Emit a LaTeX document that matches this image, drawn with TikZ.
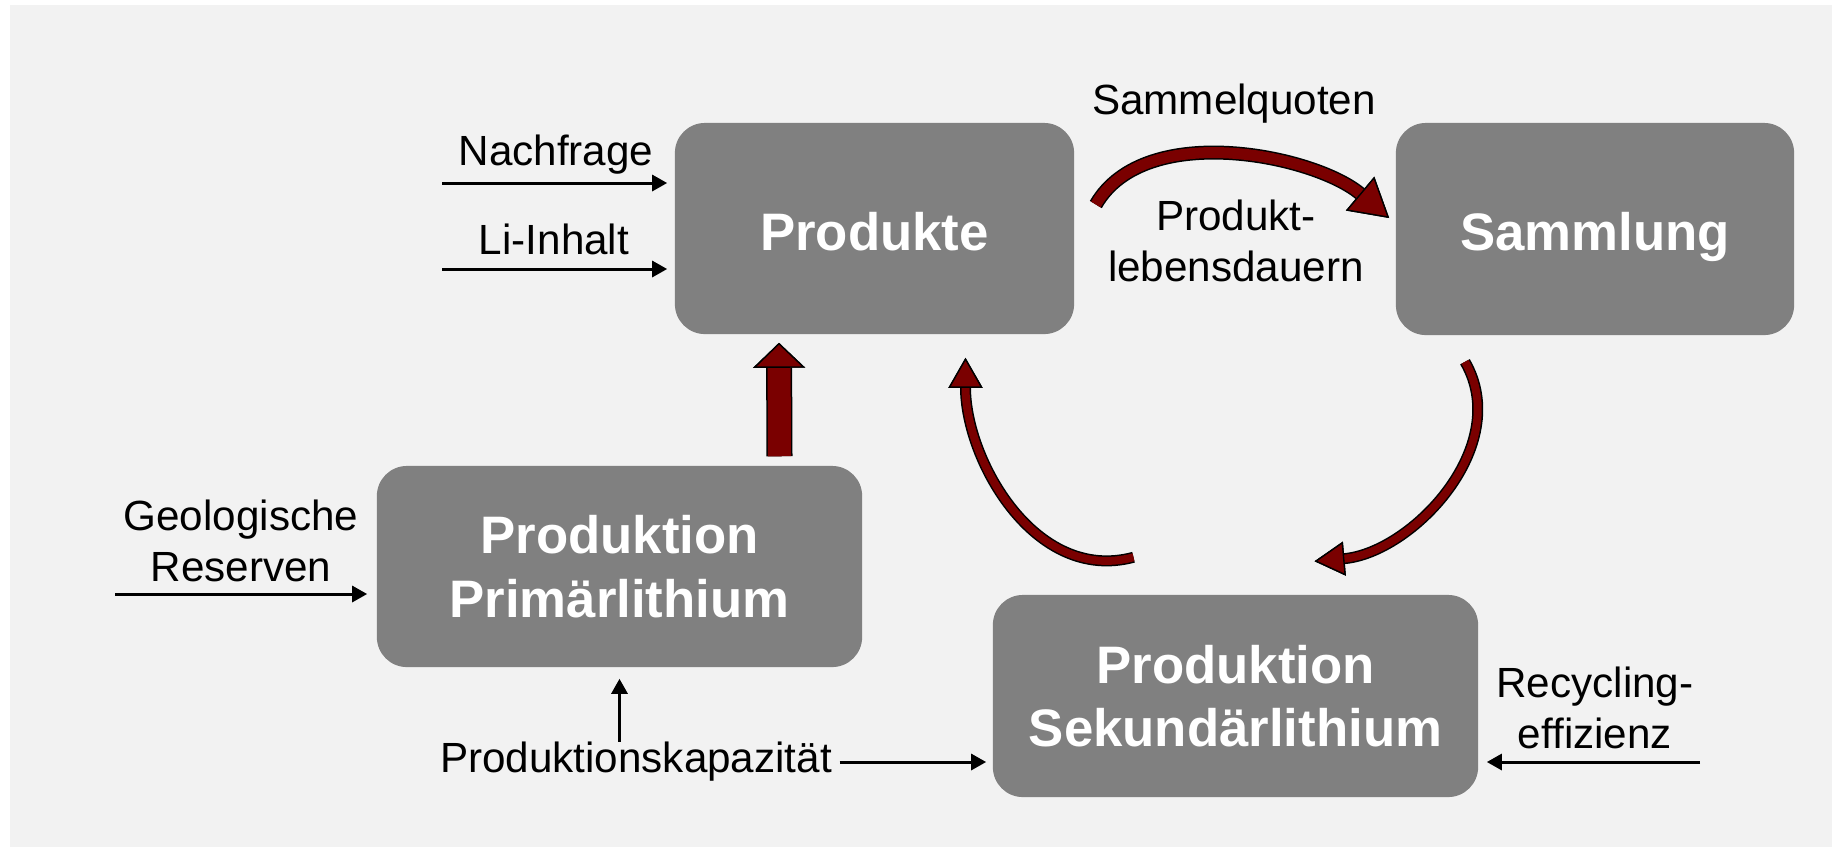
\documentclass[tikz,border=0pt]{standalone}
\usepackage{fontspec}
\setmainfont{Liberation Sans}
\usetikzlibrary{arrows.meta,calc}
\definecolor{boxgray}{RGB}{128,128,128}
\definecolor{bggray}{RGB}{242,242,242}
\definecolor{flowred}{RGB}{122,0,0}
\begin{document}
\begin{tikzpicture}[x=0.01cm,y=0.01cm]
        \tikzstyle{stockbox}=[fill=boxgray,rounded corners=0.3cm,text=white,align=center,inner sep=0pt,font=\fontsize{15}{18}\selectfont\bfseries]
        \tikzstyle{lbl}=[align=center,inner sep=0pt,font=\fontsize{12}{14.4}\selectfont]
        \tikzstyle{arr}=[line width=0.03cm,-{Triangle[length=0.15cm,width=0.16cm]}]
        \tikzstyle{flow}=[draw=flowred,line width=0.11cm,preaction={draw=black,line width=0.14cm},-{Triangle[length=0.38cm,width=0.44cm,color=black,fill=flowred,line width=0.4pt]}]
        \tikzstyle{slimflow}=[draw=flowred,line width=0.08cm,preaction={draw=black,line width=0.11cm},-{Triangle[length=0.3cm,width=0.34cm,color=black,fill=flowred,line width=0.4pt]}]
        \tikzstyle{fatflow}=[draw=flowred,line width=0.23cm,preaction={draw=black,line width=0.26cm},-{Triangle[length=0.25cm,width=0.52cm,color=black,fill=flowred,line width=0.4pt]}]
        \useasboundingbox (0,0) rectangle (1832,-847);
        \fill[bggray] (10,-5) rectangle (1832,-847);
        \node[stockbox,minimum width=3.99cm,minimum height=2.11cm,text height=15.45pt,text depth=3.15pt] (prod) at (874.5,-228.5) {Produkte};
        \node[stockbox,minimum width=3.98cm,minimum height=2.12cm,text height=15.45pt,text depth=3.15pt] (samml) at (1595,-229) {Sammlung};
        \node[stockbox,minimum width=4.85cm,minimum height=2.01cm] (prim) at (619.5,-566.5) {Produktion\\Primärlithium};
        \node[stockbox,minimum width=4.85cm,minimum height=2.02cm] (sek) at (1235.5,-696) {Produktion\\Sekundärlithium};
        \node[lbl] (nachfrage) at (556,-155) {Nachfrage};
        \node[lbl] (inhalt) at (554,-239) {Li-Inhalt};
        \node[lbl] (quoten) at (1234,-104) {Sammelquoten};
        \node[lbl] (dauer) at (1236,-241) {Produkt-\\lebensdauern};
        \node[lbl] (reserven) at (241,-541) {Geologische\\Reserven};
        \node[lbl] (kap) at (636,-762) {Produktionskapazität};
        \node[lbl] (eff) at (1595,-708) {Recycling-\\effizienz};
        \coordinate (nachIn) at (442,-183);
        \coordinate (inhaltIn) at (442,-269);
        \coordinate (resIn) at (115,-594);
        \coordinate (effIn) at (1700,-762);
        \draw[arr,shorten >=0.07cm] (nachIn) -- (nachIn -| prod.west);
        \draw[arr,shorten >=0.07cm] (inhaltIn) -- (inhaltIn -| prod.west);
        \draw[arr,shorten >=0.09cm] (resIn) -- (resIn -| prim.west);
        \draw[arr,shorten >=0.08cm] (effIn) -- (effIn -| sek.east);
        \draw[arr,shorten <=0.07cm,shorten >=0.06cm] (kap.east) -- (kap.east -| sek.west);
        \draw[arr,shorten >=0.11cm] (kap.north -| prim.south) -- (prim.south);
        \draw[fatflow] ($(prim.north)+(160,9)$) -- ($(prod.south)+(-95.5,-8)$);
        \draw[flow] ($(prod.east)+(21,24)$) to[out=60,in=140,looseness=0.85] ($(samml.west)+(-6,11)$);
        \draw[slimflow] ($(samml.south)+(-130,-26)$) to[out=-60,in=5] ($(sek.north)+(79,33)$);
        \draw[slimflow] ($(sek.north)+(-102,37)$) to[out=195,in=-90] ($(prod.south)+(91,-23)$);
    \end{tikzpicture}
\end{document}
